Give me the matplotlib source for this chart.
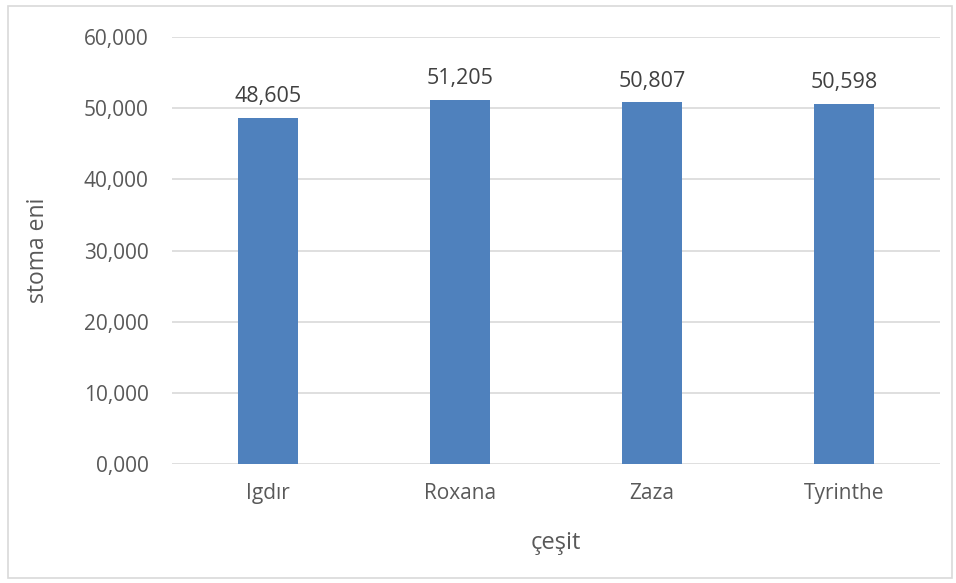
import matplotlib.pyplot as plt
from matplotlib.patches import Rectangle
from matplotlib.ticker import FuncFormatter

# stoma eni ortalamaları (çeşitlere göre)
cesitler = ["Igdır", "Roxana", "Zaza", "Tyrinthe"]
stoma_eni = [48.605, 51.205, 50.807, 50.598]
y_ticks = [0, 10, 20, 30, 40, 50, 60]

plt.rcParams["font.family"] = ["Open Sans", "DejaVu Sans"]
gri = "#595959"

fig = plt.figure(figsize=(9.56, 5.83), dpi=100)
ax = fig.add_axes([0.180, 0.2041, 0.803, 0.7324])

x = range(len(cesitler))
bars = ax.bar(x, stoma_eni, width=0.3125, color="#4f81bd", zorder=3)

for b, v in zip(bars, stoma_eni):
    ax.text(b.get_x() + b.get_width() / 2, v + 1.5, f"{v:.3f}".replace(".", ","),
            ha="center", va="bottom", fontsize=15.5, color="#404040")

ax.set_xlim(-0.5, len(cesitler) - 0.5)
ax.set_ylim(0, 60)
ax.set_yticks(y_ticks)
ax.yaxis.set_major_formatter(FuncFormatter(lambda v, p: f"{v:.3f}".replace(".", ",")))
ax.set_xticks(list(x))
ax.set_xticklabels(cesitler)
ax.grid(axis="y", color="#d9d9d9", linewidth=1.2, zorder=0)
for s in ax.spines.values():
    s.set_visible(False)
ax.tick_params(axis="both", length=0, labelsize=15, colors=gri)
ax.tick_params(axis="y", pad=17)
ax.tick_params(axis="x", pad=14)

ax.set_ylabel("stoma eni", fontsize=16.5, color=gri, labelpad=24)
ax.set_xlabel("çeşit", fontsize=17, color=gri, labelpad=19)

# grafik alanı çerçevesi
fig.patches.append(Rectangle((8 / 956, 5 / 583), 944 / 956, 572 / 583,
                             transform=fig.transFigure, fill=False,
                             edgecolor="#d9d9d9", linewidth=1.2))

fig.savefig("out.png", dpi=100)
